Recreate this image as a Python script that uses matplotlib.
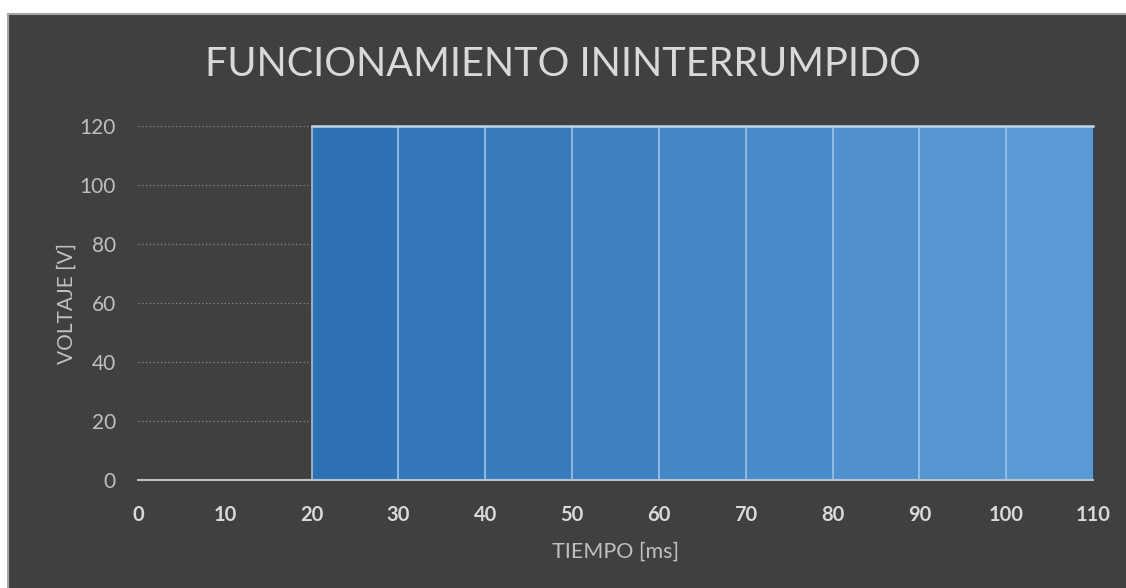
import numpy as np
import matplotlib.pyplot as plt
from matplotlib.patches import Rectangle
from matplotlib.colors import to_rgb

# data
tiempo = [0, 10, 20, 30, 40, 50, 60, 70, 80, 90, 100, 110]
voltaje = [0, 0, 120, 120, 120, 120, 120, 120, 120, 120, 120, 120]
x_ticks = [0, 10, 20, 30, 40, 50, 60, 70, 80, 90, 100, 110]
y_ticks = [0, 20, 40, 60, 80, 100, 120]

bg = '#404040'
txt = '#D9D9D9'
plt.rcParams['font.family'] = ['Lato', 'DejaVu Sans']

fig = plt.figure(figsize=(11.26, 5.88), dpi=100)
fig.patch.set_facecolor('white')
fig.patches.append(Rectangle((8 / 1126, -0.01), 1.02, 1 - 14 / 588 + 0.01,
                             transform=fig.transFigure, facecolor=bg,
                             edgecolor='#A6A6A6', linewidth=1.5, zorder=-10))

ax = fig.add_axes([138 / 1126, 1 - 480 / 588, (1093 - 138) / 1126, (480 - 126) / 588])
ax.set_facecolor(bg)
ax.set_zorder(1)

# shaded step segments, darker to lighter blue
c0, c1 = np.array(to_rgb('#2E72B4')), np.array(to_rgb('#5B9BD5'))
n = len(tiempo) - 1
first = next(i for i, v in enumerate(voltaje) if v > 0)
for i in range(n):
    x0, x1 = tiempo[i], tiempo[i + 1]
    v = voltaje[i]
    if v <= 0:
        continue
    t = (i - first) / max(n - 1 - first, 1)
    col = c0 + (c1 - c0) * t
    ax.fill_between([x0, x1], 0, v, color=col, linewidth=0, zorder=2)
    ax.plot([x0, x0], [0, v], color='#9DC3E6', lw=1.2, zorder=3)
ax.plot([tiempo[first], tiempo[-1]], [120, 120], color='#BDD7EE', lw=1.8, zorder=3,
        clip_on=False)

ax.set_xlim(0, 110)
ax.set_ylim(0, 120)
ax.set_xticks(x_ticks)
ax.set_yticks(y_ticks)
ax.grid(axis='y', color='#8C8C8C', linestyle=(0, (1, 2)), lw=0.9, zorder=1)
for s in ['top', 'right', 'left']:
    ax.spines[s].set_visible(False)
ax.spines['bottom'].set_color('#BFBFBF')
ax.spines['bottom'].set_linewidth(1.5)
ax.spines['bottom'].set_zorder(4)
ax.tick_params(axis='both', length=0)
ax.tick_params(axis='x', pad=18, labelsize=14.5, labelcolor=txt)
ax.tick_params(axis='y', pad=16, labelsize=15, labelcolor='#BFBFBF')
for lab in ax.get_xticklabels():
    lab.set_fontweight('bold')

ax.set_xlabel('TIEMPO [ms]', color='#BFBFBF', fontsize=15.5, labelpad=12)
ax.set_ylabel('VOLTAJE [V]', color='#BFBFBF', fontsize=15, labelpad=2)
fig.text(0.5, 1 - 65 / 588, 'FUNCIONAMIENTO ININTERRUMPIDO', color=txt,
         fontsize=28.5, ha='center', va='center')

fig.savefig('out.png', dpi=100, facecolor=fig.get_facecolor())
